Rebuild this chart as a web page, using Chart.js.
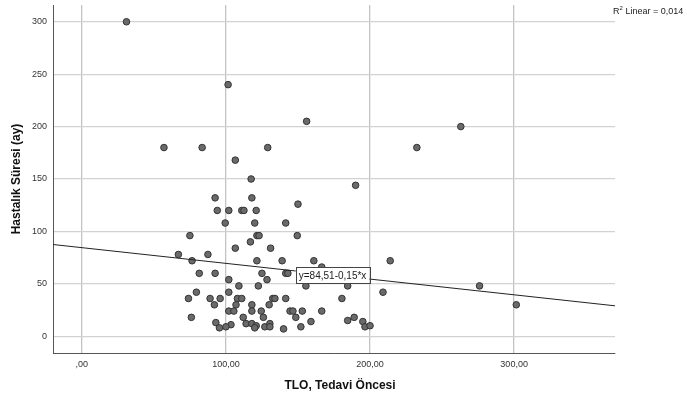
<!DOCTYPE html>
<html>
<head>
<meta charset="utf-8">
<script src="https://cdn.jsdelivr.net/npm/chart.js@4"></script>
<style>
  html, body { margin: 0; padding: 0; background: #fff; }
  #wrap { width: 687px; height: 403px; }
</style>
</head>
<body>
<div id="wrap"><canvas id="chart"></canvas></div>
<script>
// TLO (tedavi öncesi) değerleri
const tlo = [31, 101.5, 156, 263, 57, 83.5, 129, 232.5, 106.5, 117.5, 190, 92.5, 118, 94, 102, 111, 112.5, 121, 150,
  99.5, 120, 141.5, 121.5, 123, 149.5, 75, 117, 106.5, 131, 67, 87.5, 76.5, 121.5, 139, 161, 166.5, 214,
  81.5, 92.5, 125, 141.5, 143, 102, 128.5, 109, 122.5, 155.5, 184.5, 276, 209, 79.5, 102, 74, 89, 96,
  108, 111, 132.5, 134, 141.5, 180.5, 92, 107, 118, 130, 301.5, 102, 105.5, 118, 124.5, 144.5, 146.5,
  153, 166.5, 76, 112, 126, 148.5, 189, 93, 159, 184.5, 195, 103.5, 114, 118, 121, 120, 127, 130.5,
  130.5, 95.5, 100, 140, 152, 196.5, 200];
// Hastalık süresi (ay)
const sure = [300, 240, 205, 200, 180, 180, 180, 180, 168, 150, 144, 132, 132, 120, 120, 120, 120, 120, 126,
  108, 108, 108, 96, 96, 96, 96, 90, 84, 84, 78, 78, 72, 72, 72, 72, 66, 72,
  60, 60, 60, 60, 60, 54, 54, 48, 48, 48, 48, 48, 42, 42, 42, 36, 36, 36,
  36, 36, 36, 36, 36, 36, 30, 30, 30, 30, 30, 24, 24, 24, 24, 24, 24,
  24, 24, 18, 18, 18, 18, 18, 13, 14, 15, 14, 11, 12, 12, 10, 8, 9, 12,
  9, 8, 9, 7, 9, 9, 10];

const xTicks = [0, 100, 200, 300];
const xTickLabels = [',00', '100,00', '200,00', '300,00'];
const yTicks = [0, 50, 100, 150, 200, 250, 300];
const yTickLabels = ['0', '50', '100', '150', '200', '250', '300'];

const fitIntercept = 84.51;
const fitSlope = -0.15;
const fitLabel = 'y=84,51-0,15*x';
const r2Text = '0,014';

const xMin = -20, xMax = 370, yMin = -16, yMax = 316;

function fit(x) { return fitIntercept + fitSlope * x; }

const points = tlo.map(function (v, i) { return { x: v, y: sure[i] }; });

const textPlugin = {
  id: 'texts',
  afterDraw: function (chart) {
    const ctx = chart.ctx;
    const area = chart.chartArea;
    const xs = chart.scales.x, ys = chart.scales.y;
    ctx.save();

    // fit equation label
    const lx = 174;
    const px = xs.getPixelForValue(lx), py = ys.getPixelForValue(fit(lx));
    ctx.font = '10px "Liberation Sans", Arial, sans-serif';
    const w = ctx.measureText(fitLabel).width + 6;
    ctx.fillStyle = '#fff';
    ctx.fillRect(px - w / 2, py - 8, w, 16);
    ctx.strokeStyle = '#444';
    ctx.lineWidth = 1;
    ctx.strokeRect(Math.round(px - w / 2) + 0.5, Math.round(py - 8) + 0.5, Math.round(w), 16);
    ctx.fillStyle = '#222';
    ctx.textAlign = 'center';
    ctx.textBaseline = 'middle';
    ctx.fillText(fitLabel, px, py + 1);

    // R2 label
    ctx.textAlign = 'left';
    ctx.textBaseline = 'alphabetic';
    ctx.fillStyle = '#222';
    ctx.font = '9px "Liberation Sans", Arial, sans-serif';
    ctx.fillText('R', 613, 14);
    ctx.font = '6px "Liberation Sans", Arial, sans-serif';
    ctx.fillText('2', 619.5, 10);
    ctx.font = '9px "Liberation Sans", Arial, sans-serif';
    ctx.fillText(' Linear = ' + r2Text, 623, 14);

    // axis titles
    ctx.font = 'bold 12px "Liberation Sans", Arial, sans-serif';
    ctx.fillStyle = '#111';
    ctx.textAlign = 'center';
    ctx.textBaseline = 'middle';
    ctx.fillText('TLO, Tedavi Öncesi', (area.left + area.right) / 2 + 6, 386);
    ctx.translate(17, (area.top + area.bottom) / 2);
    ctx.rotate(-Math.PI / 2);
    ctx.fillText('Hastalık Süresi (ay)', 0, 0);
    ctx.restore();
  }
};

new Chart(document.getElementById('chart'), {
  type: 'scatter',
  data: {
    datasets: [{
      label: 'Hastalık Süresi',
      data: points,
      backgroundColor: '#6a6a6a',
      borderColor: '#333',
      borderWidth: 1,
      pointRadius: 3.3,
      order: 2
    }, {
      type: 'line',
      label: 'Linear',
      data: [{ x: xMin, y: fit(xMin) }, { x: xMax, y: fit(xMax) }],
      borderColor: '#222',
      borderWidth: 1,
      pointRadius: 0,
      fill: false,
      order: 1
    }]
  },
  options: {
    responsive: true,
    maintainAspectRatio: false,
    animation: false,
    layout: { padding: { left: 0, right: 72, top: 4, bottom: 0 } },
    plugins: {
      legend: { display: false },
      tooltip: { enabled: false }
    },
    scales: {
      x: {
        type: 'linear',
        min: xMin,
        max: xMax,
        afterBuildTicks: function (scale) { scale.ticks = xTicks.map(function (v) { return { value: v }; }); },
        afterFit: function (scale) { scale.height = 50; scale.paddingLeft = 0; scale.paddingRight = 0; },
        ticks: {
          padding: 6,
          color: '#333',
          font: { family: '"Liberation Sans", Arial, sans-serif', size: 9 },
          callback: function (v) { return xTickLabels[xTicks.indexOf(v)]; }
        },
        grid: { color: '#c4c4c4', lineWidth: 1.3, drawTicks: false },
        border: { display: true, color: '#555', width: 1 }
      },
      y: {
        type: 'linear',
        min: yMin,
        max: yMax,
        afterBuildTicks: function (scale) { scale.ticks = yTicks.map(function (v) { return { value: v }; }); },
        afterFit: function (scale) { scale.width = 53; scale.paddingTop = 0; scale.paddingBottom = 0; },
        ticks: {
          padding: 6,
          color: '#333',
          font: { family: '"Liberation Sans", Arial, sans-serif', size: 9 },
          callback: function (v) { return yTickLabels[yTicks.indexOf(v)]; }
        },
        grid: { color: '#d2d2d2', lineWidth: 1.3, drawTicks: false },
        border: { display: true, color: '#555', width: 1 }
      }
    }
  },
  plugins: [textPlugin]
});
</script>
</body>
</html>
